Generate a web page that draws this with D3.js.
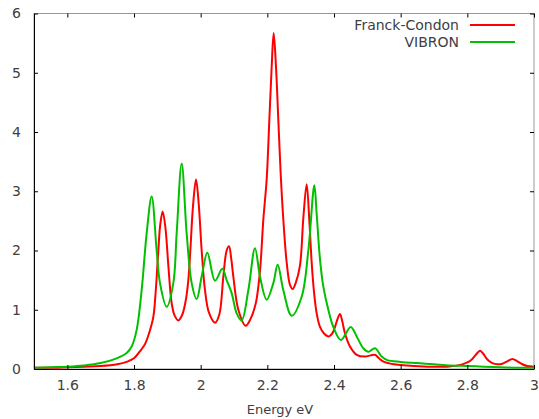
<!DOCTYPE html>
<html>
<head>
<meta charset="utf-8">
<script src="https://cdn.jsdelivr.net/npm/d3@7"></script>
<style>
  body { margin: 0; background: #fff; }
  text { font-family: "DejaVu Sans", sans-serif; }
</style>
</head>
<body>
<div id="chart"></div>
<script>
// spectra (energy in eV, intensity)
const fcEnergy = [1.50, 1.55, 1.60, 1.65, 1.70, 1.75, 1.778, 1.80, 1.818, 1.833, 1.845, 1.858, 1.865, 1.873, 1.879, 1.886,
  1.894, 1.903, 1.913, 1.922, 1.933, 1.945, 1.955, 1.963, 1.969, 1.977, 1.986, 1.994, 2.003, 2.013, 2.025, 2.043,
  2.056, 2.068, 2.078, 2.085, 2.092, 2.098, 2.113, 2.135, 2.15, 2.165, 2.173, 2.18, 2.188, 2.198, 2.206,
  2.213, 2.219, 2.226, 2.233, 2.24, 2.248, 2.258, 2.268, 2.276, 2.285, 2.298, 2.308, 2.318, 2.326, 2.333,
  2.34, 2.348, 2.358, 2.37, 2.385, 2.395, 2.403, 2.411, 2.418, 2.425, 2.433, 2.448, 2.468, 2.493, 2.51,
  2.523, 2.535, 2.55, 2.58, 2.62, 2.68, 2.74, 2.78, 2.80, 2.815, 2.83, 2.838, 2.846, 2.86, 2.875, 2.89,
  2.905, 2.92, 2.935, 2.95, 2.965, 2.98, 3.0];
const fcValue = [0.02, 0.02, 0.03, 0.04, 0.05, 0.08, 0.12, 0.18, 0.30, 0.42, 0.60, 0.88, 1.30, 2.00, 2.45, 2.66,
  2.40, 1.75, 1.11, 0.90, 0.82, 0.92, 1.15, 1.50, 2.00, 2.75, 3.20, 2.80, 2.00, 1.33, 0.95, 0.78,
  0.92, 1.56, 2.00, 2.07, 1.85, 1.56, 1.00, 0.73, 0.85, 1.10, 1.39, 1.80, 2.52, 3.20, 4.20,
  5.10, 5.67, 5.10, 4.20, 3.30, 2.52, 1.80, 1.42, 1.35, 1.45, 1.75, 2.55, 3.12, 2.50, 1.80,
  1.30, 0.94, 0.71, 0.60, 0.55, 0.60, 0.71, 0.85, 0.93, 0.80, 0.60, 0.38, 0.24, 0.21, 0.23,
  0.24, 0.18, 0.12, 0.08, 0.06, 0.04, 0.04, 0.07, 0.11, 0.17, 0.27, 0.31, 0.27, 0.16, 0.10, 0.08,
  0.09, 0.13, 0.17, 0.13, 0.08, 0.05, 0.04];

const vibEnergy = [1.50, 1.55, 1.60, 1.65, 1.70, 1.748, 1.778, 1.793, 1.808, 1.823, 1.838, 1.853, 1.868, 1.878,
  1.898, 1.918, 1.928, 1.943, 1.958, 1.973, 1.988, 2.003, 2.02, 2.043, 2.065, 2.078, 2.093, 2.108, 2.123,
  2.143, 2.163, 2.178, 2.198, 2.218, 2.231, 2.248, 2.273, 2.303, 2.323, 2.341, 2.348, 2.358, 2.368, 2.383,
  2.398, 2.421, 2.45, 2.468, 2.488, 2.503, 2.523, 2.543, 2.56, 2.60, 2.65, 2.70, 2.75, 2.80, 2.85, 2.90,
  2.95, 3.0];
const vibValue = [0.02, 0.03, 0.04, 0.06, 0.10, 0.18, 0.27, 0.38, 0.66, 1.33, 2.29, 2.91, 2.00, 1.45,
  1.05, 1.45, 2.29, 3.47, 2.29, 1.45, 1.18, 1.56, 1.96, 1.49, 1.69, 1.50, 1.28, 0.94, 0.82,
  1.33, 2.04, 1.56, 1.17, 1.45, 1.76, 1.33, 0.90, 1.22, 2.00, 3.10, 2.62, 1.85, 1.39, 1.00,
  0.71, 0.49, 0.71, 0.55, 0.35, 0.29, 0.35, 0.21, 0.15, 0.12, 0.10, 0.08, 0.06, 0.05, 0.04, 0.03,
  0.02, 0.02];

const seriesNames = ["Franck-Condon", "VIBRON"];
const seriesColors = ["#ff0000", "#00c000"];
const xTicks = [1.6, 1.8, 2, 2.2, 2.4, 2.6, 2.8, 3];
const xTickLabels = ["1.6", "1.8", "2", "2.2", "2.4", "2.6", "2.8", "3"];
const yTicks = [0, 1, 2, 3, 4, 5, 6];
const xTitle = "Energy eV";

const width = 539, height = 419,
      margin = ({top: 13.5, right: 5, left: 34, bottom: 50});

const series = [
  {name: seriesNames[0], color: seriesColors[0], pts: fcEnergy.map((e, i) => [e, fcValue[i]])},
  {name: seriesNames[1], color: seriesColors[1], pts: vibEnergy.map((e, i) => [e, vibValue[i]])}
];

let svg = d3.select("#chart")
  .append("svg")
  .attr("width", width)
  .attr("height", height);

const x = d3.scaleLinear()
  .domain([1.5, 3])
  .range([margin.left, width - margin.right]);

const y = d3.scaleLinear()
  .domain([0, 6])
  .range([height - margin.bottom, margin.top]);

// gray frame (top + right)
svg.append("rect")
  .attr("x", x(1.5))
  .attr("y", y(6))
  .attr("width", x(3) - x(1.5))
  .attr("height", y(0) - y(6))
  .attr("fill", "none")
  .attr("stroke", "#999");

// mirrored ticks on top and right
svg.append("g")
  .attr("transform", `translate(0,${y(6)})`)
  .call(d3.axisTop(x).tickValues(xTicks).tickSize(-4).tickSizeOuter(0).tickFormat(""))
  .call(g => g.select(".domain").remove());

svg.append("g")
  .attr("transform", `translate(${x(3)},0)`)
  .call(d3.axisRight(y).tickValues(yTicks).tickSize(-4).tickSizeOuter(0).tickFormat(""))
  .call(g => g.select(".domain").remove());

const xAxis = g => g
  .attr("transform", `translate(0,${y(0)})`)
  .call(d3.axisBottom(x).tickValues(xTicks).tickSize(-4).tickSizeOuter(0)
    .tickPadding(11).tickFormat((d, i) => xTickLabels[i]))
  .call(g => g.selectAll("text").attr("font-size", 14).attr("fill", "#404040"));

const yAxis = g => g
  .attr("transform", `translate(${x(1.5)},0)`)
  .call(d3.axisLeft(y).tickValues(yTicks).tickSize(-4).tickSizeOuter(0)
    .tickPadding(13).tickFormat(d3.format("d")))
  .call(g => g.selectAll("text").attr("font-size", 14).attr("fill", "#404040"));

const line = d3.line()
  .x(d => x(d[0]))
  .y(d => y(d[1]))
  .curve(d3.curveCatmullRom.alpha(0.5));

svg.selectAll(".curve")
  .data(series)
  .join("path")
  .attr("class", "curve")
  .attr("fill", "none")
  .attr("stroke", d => d.color)
  .attr("stroke-width", 2)
  .attr("stroke-linejoin", "round")
  .attr("d", d => line(d.pts));

svg.append("g").call(xAxis);
svg.append("g").call(yAxis);

// legend
let legend = svg.selectAll(".legend")
  .data(series)
  .join("g")
  .attr("class", "legend")
  .attr("transform", (d, i) => `translate(0,${25 + i * 17})`);

legend.append("text")
  .attr("x", 459)
  .attr("dy", "0.35em")
  .attr("text-anchor", "end")
  .attr("font-size", 14)
  .attr("fill", "#404040")
  .text(d => d.name);

legend.append("line")
  .attr("x1", 470)
  .attr("x2", 515)
  .attr("stroke", d => d.color)
  .attr("stroke-width", 2);

svg.append("text")
  .attr("x", 280)
  .attr("y", 414)
  .attr("text-anchor", "middle")
  .attr("font-size", 13)
  .attr("fill", "#404040")
  .text(xTitle);
</script>
</body>
</html>
